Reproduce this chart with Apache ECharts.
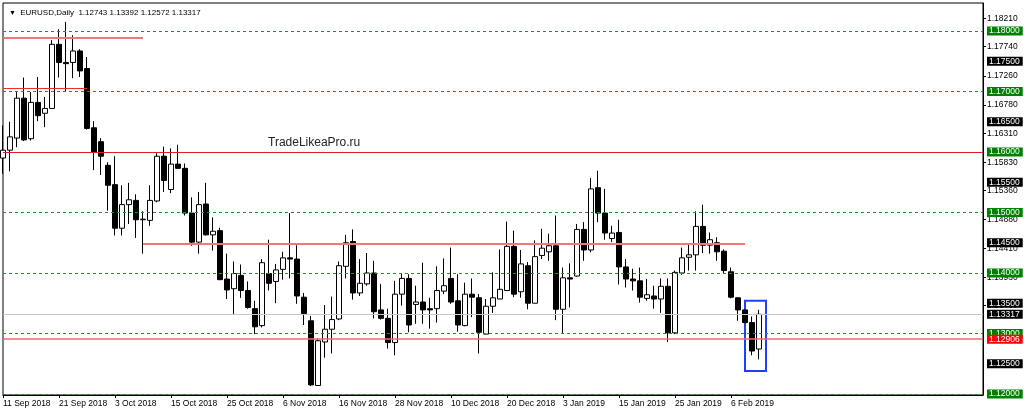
<!DOCTYPE html>
<html>
<head>
<meta charset="utf-8">
<title>EURUSD,Daily</title>
<script src="https://cdn.jsdelivr.net/npm/echarts@6/dist/echarts.min.js"></script>
<style>
    html, body { margin: 0; padding: 0; background: #fff; }
    #main { width: 1024px; height: 413px; }
</style>
</head>
<body>
<div id="main"></div>
<script>
// trading days, 11 Sep 2018 .. 12 Feb 2019
var dates = [
    '11 Sep 2018', '12 Sep 2018', '13 Sep 2018', '14 Sep 2018', '17 Sep 2018', '18 Sep 2018', '19 Sep 2018', '20 Sep 2018',
    '21 Sep 2018', '24 Sep 2018', '25 Sep 2018', '26 Sep 2018', '27 Sep 2018', '28 Sep 2018', '1 Oct 2018', '2 Oct 2018',
    '3 Oct 2018', '4 Oct 2018', '5 Oct 2018', '8 Oct 2018', '9 Oct 2018', '10 Oct 2018', '11 Oct 2018', '12 Oct 2018',
    '15 Oct 2018', '16 Oct 2018', '17 Oct 2018', '18 Oct 2018', '19 Oct 2018', '22 Oct 2018', '23 Oct 2018', '24 Oct 2018',
    '25 Oct 2018', '26 Oct 2018', '29 Oct 2018', '30 Oct 2018', '31 Oct 2018', '1 Nov 2018', '2 Nov 2018', '5 Nov 2018',
    '6 Nov 2018', '7 Nov 2018', '8 Nov 2018', '9 Nov 2018', '12 Nov 2018', '13 Nov 2018', '14 Nov 2018', '15 Nov 2018',
    '16 Nov 2018', '19 Nov 2018', '20 Nov 2018', '21 Nov 2018', '22 Nov 2018', '23 Nov 2018', '26 Nov 2018', '27 Nov 2018',
    '28 Nov 2018', '29 Nov 2018', '30 Nov 2018', '3 Dec 2018', '4 Dec 2018', '5 Dec 2018', '6 Dec 2018', '7 Dec 2018',
    '10 Dec 2018', '11 Dec 2018', '12 Dec 2018', '13 Dec 2018', '14 Dec 2018', '17 Dec 2018', '18 Dec 2018', '19 Dec 2018',
    '20 Dec 2018', '21 Dec 2018', '24 Dec 2018', '26 Dec 2018', '27 Dec 2018', '28 Dec 2018', '31 Dec 2018', '2 Jan 2019',
    '3 Jan 2019', '4 Jan 2019', '7 Jan 2019', '8 Jan 2019', '9 Jan 2019', '10 Jan 2019', '11 Jan 2019', '14 Jan 2019',
    '15 Jan 2019', '16 Jan 2019', '17 Jan 2019', '18 Jan 2019', '21 Jan 2019', '22 Jan 2019', '23 Jan 2019', '24 Jan 2019',
    '25 Jan 2019', '28 Jan 2019', '29 Jan 2019', '30 Jan 2019', '31 Jan 2019', '1 Feb 2019', '4 Feb 2019', '5 Feb 2019',
    '6 Feb 2019', '7 Feb 2019', '8 Feb 2019', '11 Feb 2019', '12 Feb 2019'
];

var opens = [
    1.1590, 1.1603, 1.1623, 1.1689, 1.1622, 1.1682, 1.1664, 1.1672, 1.1778, 1.1748, 1.1748, 1.1767, 1.1738, 1.1640,
    1.1617, 1.1578, 1.1546, 1.1474, 1.1513, 1.1520, 1.1488, 1.1487, 1.1519, 1.1593, 1.1538, 1.1580, 1.1573, 1.1499,
    1.1451, 1.1514, 1.1463, 1.1470, 1.1390, 1.1374, 1.1396, 1.1371, 1.1341, 1.1313, 1.1399, 1.1386, 1.1406, 1.1425,
    1.1423, 1.1360, 1.1321, 1.1214, 1.1286, 1.1307, 1.1324, 1.1411, 1.1452, 1.1367, 1.1382, 1.1400, 1.1339, 1.1325,
    1.1285, 1.1365, 1.1391, 1.1348, 1.1352, 1.1341, 1.1341, 1.1370, 1.1391, 1.1354, 1.1313, 1.1365, 1.1359, 1.1299,
    1.1345, 1.1357, 1.1371, 1.1444, 1.1369, 1.1412, 1.1350, 1.1429, 1.1435, 1.1445, 1.1340, 1.1392, 1.1395, 1.1472,
    1.1438, 1.1541, 1.1499, 1.1457, 1.1467, 1.1410, 1.1390, 1.1387, 1.1358, 1.1362, 1.1357, 1.1378, 1.1301, 1.1400,
    1.1426, 1.1430, 1.1477, 1.1446, 1.1450, 1.1436, 1.1402, 1.1359, 1.1339, 1.1318, 1.12743
];
var highs = [
    1.1644, 1.1650, 1.1699, 1.1723, 1.1699, 1.1724, 1.1691, 1.1785, 1.1803, 1.1815, 1.1793, 1.1770, 1.1757, 1.1651,
    1.1623, 1.1583, 1.1593, 1.1545, 1.1549, 1.1530, 1.1502, 1.1545, 1.1598, 1.1609, 1.1606, 1.1612, 1.1581, 1.1525,
    1.1534, 1.1549, 1.1492, 1.1475, 1.1432, 1.1419, 1.1414, 1.1386, 1.1354, 1.1423, 1.1455, 1.1415, 1.1435, 1.1499,
    1.1446, 1.1367, 1.1329, 1.1292, 1.1347, 1.1361, 1.1419, 1.1463, 1.1472, 1.1423, 1.1433, 1.1420, 1.1382, 1.1341,
    1.1387, 1.1400, 1.1398, 1.1379, 1.1417, 1.1359, 1.1411, 1.1424, 1.1442, 1.1398, 1.1384, 1.1391, 1.1365, 1.1357,
    1.1401, 1.1439, 1.1485, 1.1470, 1.1438, 1.1418, 1.1454, 1.1473, 1.1465, 1.1495, 1.1409, 1.1416, 1.1481, 1.1484,
    1.1557, 1.1569, 1.1539, 1.1478, 1.1488, 1.1423, 1.1407, 1.1409, 1.1390, 1.1379, 1.1391, 1.1391, 1.1404, 1.1442,
    1.1448, 1.1502, 1.1513, 1.1467, 1.1459, 1.1439, 1.1409, 1.1360, 1.1339, 1.1328, 1.13392
];
var lows = [
    1.1564, 1.1568, 1.1608, 1.1618, 1.1619, 1.1651, 1.1641, 1.1671, 1.1723, 1.1699, 1.1722, 1.1724, 1.1637, 1.1570,
    1.1562, 1.1503, 1.1462, 1.1462, 1.1481, 1.1458, 1.1432, 1.1478, 1.1517, 1.1534, 1.1532, 1.1572, 1.1495, 1.1445,
    1.1432, 1.1462, 1.1437, 1.1388, 1.1357, 1.1332, 1.1359, 1.1341, 1.1299, 1.1310, 1.1371, 1.1350, 1.1389, 1.1391,
    1.1349, 1.1314, 1.1213, 1.1213, 1.1260, 1.1267, 1.1322, 1.1391, 1.1356, 1.1362, 1.1379, 1.1325, 1.1323, 1.1275,
    1.1264, 1.1346, 1.1302, 1.1316, 1.1316, 1.1308, 1.1318, 1.1365, 1.1349, 1.1303, 1.1312, 1.1327, 1.1267, 1.1299,
    1.1334, 1.1357, 1.1371, 1.1360, 1.1359, 1.1340, 1.1350, 1.1423, 1.1420, 1.1322, 1.1300, 1.1343, 1.1394, 1.1420,
    1.1434, 1.1484, 1.1455, 1.1451, 1.1381, 1.1376, 1.1371, 1.1351, 1.1354, 1.1341, 1.1334, 1.1286, 1.1299, 1.1397,
    1.1404, 1.1404, 1.1433, 1.1432, 1.1420, 1.1400, 1.1358, 1.1321, 1.1317, 1.1264, 1.12572
];
var closes = [
    1.1603, 1.1625, 1.1689, 1.1620, 1.1682, 1.1660, 1.1672, 1.1778, 1.1748, 1.1746, 1.1767, 1.1734, 1.1639, 1.1600,
    1.1593, 1.1545, 1.1474, 1.1513, 1.1521, 1.1488, 1.1489, 1.1520, 1.1593, 1.1553, 1.1580, 1.1573, 1.1499, 1.1451,
    1.1513, 1.1463, 1.1469, 1.1389, 1.1372, 1.1399, 1.1371, 1.1343, 1.1311, 1.1417, 1.1383, 1.1405, 1.1425, 1.1423,
    1.1362, 1.1333, 1.1215, 1.1288, 1.1307, 1.1323, 1.1412, 1.1450, 1.1367, 1.1383, 1.1400, 1.1336, 1.1325, 1.1285,
    1.1365, 1.1391, 1.1314, 1.1352, 1.1339, 1.1339, 1.1371, 1.1379, 1.1352, 1.1314, 1.1365, 1.1360, 1.1302, 1.1345,
    1.1359, 1.1373, 1.1444, 1.1365, 1.1415, 1.1350, 1.1427, 1.1441, 1.1445, 1.1340, 1.1392, 1.1390, 1.1472, 1.1438,
    1.1539, 1.1499, 1.1466, 1.1466, 1.1410, 1.1390, 1.1387, 1.1360, 1.1364, 1.1357, 1.1378, 1.1301, 1.1401, 1.1425,
    1.1430, 1.1477, 1.1446, 1.1455, 1.1435, 1.1404, 1.1360, 1.1339, 1.1318, 1.1271, 1.13317
];

// price scale labels on the right
var scaleTicks = [1.18210, 1.17740, 1.17260, 1.16780, 1.16310, 1.15830, 1.15360, 1.14880, 1.14410, 1.13930, 1.13460];
var greenLevels = [1.18, 1.17, 1.16, 1.15, 1.14, 1.13, 1.12];
var blackLevels = [1.175, 1.165, 1.155, 1.145, 1.135, 1.125];
var bidPrice = 1.13317;
var supportLevel = 1.12906;
var fullRedLevel = 1.16;
// red segments: [from bar, to bar, price]
var redSegments = [
    [0, 20.1, 1.1789],
    [0, 12.1, 1.1705],
    [20, 105.7, 1.1448]
];
// highlight box: [bar from, bar to, price low, price high]
var boxRange = [105.6, 109.1, 1.1238, 1.1354];

var chartShift = 32;
</script>
<script>
var myChart = echarts.init(document.getElementById('main'));

var cats = dates.slice();
for (var i = 0; i < chartShift; i++) cats.push('');

var candles = [];
for (var i = 0; i < dates.length; i++) {
    candles.push([opens[i], closes[i], lows[i], highs[i]]);
}

var fmt = function (v) { return v.toFixed(5); };
var boxLabel = function (bg, v) {
    return {
        show: true, position: 'end', distance: 4, opacity: 1,
        formatter: fmt(v),
        color: '#fff', backgroundColor: bg,
        fontSize: 8.5, fontFamily: 'Liberation Sans', lineHeight: 9,
        padding: [0, 3, 0, 2]
    };
};

var lines = [];
// draw order: hidden black levels, green grid, then the coloured lines on top
blackLevels.forEach(function (v) {
    lines.push({yAxis: v, lineStyle: {color: 'rgba(255,255,255,0)', width: 1}, label: boxLabel('#000', v)});
});
greenLevels.forEach(function (v) {
    lines.push({yAxis: v, lineStyle: {color: '#159a15', type: [3, 3], width: 1}, label: boxLabel('#008000', v)});
});
lines.push({yAxis: fullRedLevel, lineStyle: {color: '#e02020', type: 'solid', width: 1}, label: {show: false}});
lines.push({yAxis: bidPrice, lineStyle: {color: '#c8c8c8', type: 'solid', width: 1}, label: boxLabel('#000', bidPrice)});
lines.push({yAxis: supportLevel, lineStyle: {color: '#f06a6a', type: 'solid', width: 1.5}, label: boxLabel('#ff0000', supportLevel)});
redSegments.forEach(function (s, k) {
    lines.push([
        {coord: [s[0], s[2]], lineStyle: {color: k === 1 ? '#e83030' : '#f07878', type: 'solid', width: k === 1 ? 1 : 2}, label: {show: false}},
        {coord: [s[1], s[2]]}
    ]);
});

var showTick = function (index, value) {
    return value !== '' && index % 8 === 0;
};

var option = {
    animation: false,
    backgroundColor: '#fff',
    title: {
        text: '{t|▼} EURUSD,Daily  1.12743 1.13392 1.12572 1.13317',
        left: 4,
        top: 4,
        textStyle: {
            fontSize: 8,
            fontWeight: 'normal',
            fontFamily: 'Liberation Sans',
            color: '#000',
            rich: {t: {fontSize: 7, color: '#000', padding: [0, 2, 0, 0]}}
        }
    },
    graphic: [{
        type: 'text',
        left: 268,
        top: 137,
        style: {text: 'TradeLikeaPro.ru', font: '12px "Liberation Sans"', fill: '#222'}
    }],
    grid: {
        left: 2, right: 41, top: 3, bottom: 18,
        show: true, borderColor: '#000', borderWidth: 1
    },
    xAxis: {
        type: 'category',
        data: cats,
        boundaryGap: false,
        axisLine: {lineStyle: {color: '#000'}},
        axisTick: {show: true, interval: showTick, length: 3, lineStyle: {color: '#000'}},
        axisLabel: {
            interval: showTick, align: 'left', margin: 4,
            fontSize: 8.5, fontFamily: 'Liberation Sans', color: '#000'
        },
        splitLine: {show: false}
    },
    yAxis: {
        type: 'value',
        position: 'right',
        min: 1.11983,
        max: 1.18463,
        axisLine: {show: true, lineStyle: {color: '#000'}},
        axisTick: {show: true, customValues: scaleTicks, length: 3, lineStyle: {color: '#000'}},
        axisLabel: {
            customValues: scaleTicks, margin: 4,
            fontSize: 8.5, fontFamily: 'Liberation Sans', color: '#000',
            formatter: function (v) { return v.toFixed(5); }
        },
        splitLine: {show: false}
    },
    series: [{
        name: 'EURUSD',
        type: 'candlestick',
        data: candles,
        barWidth: 5,
        itemStyle: {
            color: '#fff', color0: '#000',
            borderColor: '#000', borderColor0: '#000', borderWidth: 1
        },
        markLine: {
            silent: true,
            symbol: 'none',
            precision: 5,
            animation: false,
            data: lines
        },
        markArea: {
            silent: true,
            itemStyle: {color: 'rgba(0,0,0,0)', borderColor: '#1f3fff', borderWidth: 2},
            data: [[
                {coord: [boxRange[0], boxRange[3]]},
                {coord: [boxRange[1], boxRange[2]]}
            ]]
        }
    }]
};
myChart.setOption(option);
</script>
</body>
</html>
